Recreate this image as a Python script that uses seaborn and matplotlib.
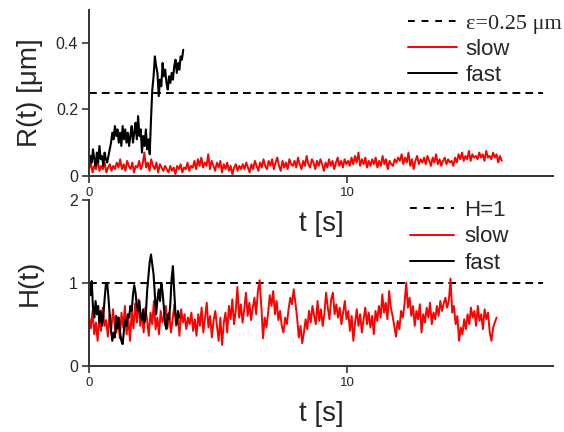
import numpy as np
import pandas as pd
import matplotlib
matplotlib.use("Agg")
import matplotlib.pyplot as plt
from matplotlib.lines import Line2D
import seaborn as sns

# R(t) slow trajectory, 0..16 s
slow_R = [
    0.02, 0.04, 0.01, 0.03, 0.02, 0.045, 0.015, 0.03, 0.02, 0.04, 0.01, 0.025, 0.035, 0.015, 0.03,
    0.02, 0.04, 0.025, 0.05, 0.02, 0.035, 0.015, 0.045, 0.03, 0.02, 0.04, 0.01, 0.03, 0.025, 0.045,
    0.02, 0.035, 0.07, 0.025, 0.04, 0.015, 0.05, 0.03, 0.02, 0.04, 0.01, 0.035, 0.025, 0.015, 0.03,
    0.02, 0.01, 0.03, 0.015, 0.025, 0.005, 0.03, 0.02, 0.035, 0.01, 0.025, 0.02, 0.04, 0.015, 0.03,
    0.025, 0.045, 0.02, 0.05, 0.03, 0.055, 0.025, 0.04, 0.03, 0.065, 0.02, 0.045, 0.03, 0.015, 0.04,
    0.025, 0.045, 0.01, 0.035, 0.02, 0.04, 0.015, 0.03, 0.005, 0.025, 0.035, 0.015, 0.03, 0.02, 0.035,
    0.02, 0.04, 0.025, 0.01, 0.035, 0.02, 0.045, 0.03, 0.015, 0.04, 0.025, 0.05, 0.03, 0.02, 0.045,
    0.03, 0.05, 0.02, 0.04, 0.055, 0.03, 0.015, 0.045, 0.025, 0.04, 0.02, 0.05, 0.035, 0.03, 0.045,
    0.025, 0.055, 0.035, 0.02, 0.045, 0.03, 0.06, 0.035, 0.025, 0.05, 0.04, 0.02, 0.045, 0.03, 0.05,
    0.035, 0.015, 0.04, 0.025, 0.05, 0.03, 0.045, 0.02, 0.04, 0.055, 0.03, 0.045, 0.025, 0.05, 0.035,
    0.045, 0.03, 0.055, 0.035, 0.06, 0.04, 0.07, 0.03, 0.05, 0.035, 0.055, 0.025, 0.045, 0.03, 0.05,
    0.035, 0.055, 0.025, 0.045, 0.03, 0.06, 0.035, 0.05, 0.02, 0.045, 0.035, 0.03, 0.05, 0.04, 0.055,
    0.045, 0.065, 0.035, 0.055, 0.04, 0.07, 0.03, 0.05, 0.02, 0.045, 0.06, 0.035, 0.05, 0.04, 0.055,
    0.035, 0.06, 0.045, 0.03, 0.055, 0.04, 0.065, 0.035, 0.05, 0.03, 0.045, 0.055, 0.035, 0.05, 0.04,
    0.045, 0.03, 0.055, 0.04, 0.065, 0.05, 0.07, 0.045, 0.06, 0.05, 0.075, 0.045, 0.065, 0.055, 0.06,
    0.05, 0.07, 0.055, 0.065, 0.045, 0.075, 0.055, 0.06, 0.05, 0.07, 0.055, 0.065, 0.04, 0.06, 0.045,
]
slow_R_end = 16.0

# R(t) fast trajectory, 0..3.65 s
fast_R = [
    0.03, 0.06, 0.04, 0.08, 0.05, 0.03, 0.07, 0.04, 0.09, 0.05, 0.06, 0.03, 0.07, 0.05, 0.04, 0.06,
    0.08, 0.10, 0.13, 0.11, 0.15, 0.12, 0.14, 0.10,
    0.13, 0.09, 0.15, 0.11, 0.14, 0.10, 0.13, 0.09, 0.12, 0.15, 0.10, 0.13, 0.16, 0.11, 0.18, 0.12,
    0.14, 0.07, 0.12, 0.09, 0.14, 0.08, 0.11, 0.065,
    0.17, 0.26, 0.30, 0.36,
    0.33, 0.31, 0.24, 0.29, 0.27, 0.34, 0.30, 0.32, 0.28, 0.26, 0.30, 0.28, 0.31, 0.29, 0.33, 0.35,
    0.31, 0.34, 0.32, 0.36, 0.35, 0.38,
]
fast_R_end = 3.65

# H(t) slow trajectory, 0..15.8 s
slow_H = [
    0.58, 0.45, 0.66, 0.38, 0.52, 0.30, 0.60, 0.42, 0.70, 0.48, 0.55, 0.35, 0.62, 0.44, 0.68,
    0.50, 0.40, 0.58, 0.33, 0.64, 0.46, 0.72, 0.38, 0.56, 0.30, 0.66, 0.45, 0.75, 0.52, 0.80,
    0.48, 0.62, 0.40, 0.70, 0.55, 0.36, 0.64, 0.50, 0.78, 0.44, 0.58, 0.38, 0.66, 0.52, 0.60,
    0.72, 0.46, 0.64, 0.40, 0.56, 0.74, 0.48, 0.60, 0.36, 0.68, 0.52, 0.62, 0.44, 0.58, 0.50,
    0.64, 0.42, 0.56, 0.36, 0.62, 0.48, 0.70, 0.40, 0.58, 0.76, 0.46, 0.60, 0.34, 0.54, 0.66,
    0.48, 0.30, 0.58, 0.25, 0.52, 0.64, 0.40, 0.72, 0.56, 0.80, 0.50, 0.66, 0.95, 0.58, 0.74,
    0.52, 0.68, 0.88, 0.60, 0.76, 0.55, 0.70, 0.82, 0.62, 0.90, 1.03, 0.72, 0.33, 0.58, 0.46,
    0.64, 0.85, 0.72, 0.90, 0.62, 0.78, 0.55, 0.66, 0.48, 0.40, 0.58, 0.50, 0.68, 0.82, 0.74,
    0.92, 0.76, 0.58, 0.34, 0.48, 0.27, 0.40, 0.56, 0.44, 0.66, 0.52, 0.72, 0.60, 0.50, 0.78,
    0.54, 0.68, 0.48, 0.62, 0.88, 0.70, 0.56, 0.80, 0.88, 0.62, 0.74, 0.58, 0.70, 0.50, 0.64,
    0.78, 0.56, 0.66, 0.42, 0.60, 0.30, 0.52, 0.68, 0.48, 0.62, 0.40, 0.56, 0.70, 0.50, 0.64,
    0.46, 0.60, 0.38, 0.66, 0.54, 0.72, 0.58, 0.86, 0.64, 0.76, 0.56, 0.90, 0.70, 0.60, 0.48,
    0.35, 0.54, 0.44, 0.66, 0.58, 0.74, 1.00, 0.70, 0.82, 0.60, 0.72, 0.48, 0.66, 0.56, 0.74,
    0.40, 0.62, 0.52, 0.70, 0.58, 0.76, 0.50, 0.64, 0.56, 0.72, 0.60, 0.78, 0.66, 0.75, 0.82,
    0.70, 0.78, 1.05, 0.64, 0.72, 0.50, 0.60, 0.30, 0.46, 0.38, 0.56, 0.44, 0.62, 0.50, 0.70,
    0.58, 0.66, 0.48, 0.72, 0.54, 0.62, 0.44, 0.68, 0.56, 0.64, 0.40, 0.30, 0.46, 0.52, 0.58,
]
slow_H_end = 15.8

# H(t) fast trajectory, 0..3.5 s
fast_H = [
    1.00, 0.85, 1.02, 0.70, 0.58, 0.78, 0.62, 0.72, 0.52, 0.66, 0.48, 0.60, 0.80, 0.98, 1.00,
    0.82, 0.60, 0.42, 0.30, 0.40, 0.34, 0.60, 0.45, 0.58, 0.40, 0.30, 0.26, 0.42, 0.55, 0.48,
    0.62, 0.58, 0.72, 0.66, 0.85, 0.97, 0.88, 0.72, 0.66, 0.78, 0.60, 0.55, 0.68, 0.52, 0.62,
    0.90, 1.08, 1.25, 1.34, 1.22, 1.10, 0.85, 0.62, 0.80, 0.92, 0.78, 1.00, 0.88, 0.70, 0.50,
    0.44, 0.62, 0.56, 0.75, 1.05, 1.20, 0.90, 0.62, 0.50, 0.66, 0.58,
]
fast_H_end = 3.5

eps = 0.25
H_thr = 1.0
thr_t = [0, 17.6]

sns.set_style("ticks")
plt.rcParams["font.family"] = ["Liberation Sans", "DejaVu Sans"]

fig = plt.figure(figsize=(5.64, 4.32), dpi=100)
ax1 = fig.add_axes([0.158, 0.593, 0.823, 0.384])
ax2 = fig.add_axes([0.158, 0.1535, 0.823, 0.384])
# keep the upper x label visible through the lower panel
ax2.patch.set_alpha(0)

spine_col = "#333333"


def draw_panel(ax, slow, slow_end, fast, fast_end, thr, ylim, yticks, ytlabels, ylabel):
    ts = np.linspace(0, slow_end, len(slow))
    tf = np.linspace(0, fast_end, len(fast))
    ax.plot(thr_t, [thr, thr], color="black", lw=1.4, dashes=(4, 2.6))
    sns.lineplot(x=ts, y=slow, ax=ax, color="red", lw=1.4, estimator=None)
    sns.lineplot(x=tf, y=fast, ax=ax, color="black", lw=1.5, estimator=None)
    ax.set_xlim(0, 18)
    ax.set_ylim(*ylim)
    ax.set_xticks([0, 10])
    ax.set_xticklabels(["0", "10"], fontsize=9.5)
    ax.set_yticks(yticks)
    ax.set_yticklabels(ytlabels, fontsize=11.5)
    ax.tick_params(direction="out", length=5, width=1.2, color=spine_col, pad=3)
    for s in ["top", "right"]:
        ax.spines[s].set_visible(False)
    for s in ["left", "bottom"]:
        ax.spines[s].set_color(spine_col)
        ax.spines[s].set_linewidth(1.4)
    ax.set_xlabel("t [s]", fontsize=20, labelpad=9)
    ax.set_ylabel(ylabel, fontsize=20)
    ax.yaxis.set_label_coords(-0.10, 0.5)
    handles = [
        Line2D([], [], color="black", lw=1.4, dashes=(3.5, 3.5)),
        Line2D([], [], color="red", lw=1.4),
        Line2D([], [], color="black", lw=1.4),
    ]
    return handles


h1 = draw_panel(ax1, slow_R, slow_R_end, fast_R, fast_R_end, eps,
                (0, 0.5), [0, 0.2, 0.4], ["0", "0.2", "0.4"], "R(t) [μm]")
leg1 = fig.legend(h1, ["ε=0.25 μm", "slow", "fast"], loc="upper left",
                  bbox_to_anchor=(408 / 564, 1 - 13 / 432), frameon=False, fontsize=16,
                  handlelength=2.2, handletextpad=0.4, labelspacing=0.24,
                  borderpad=0, borderaxespad=0)
leg1.get_texts()[0].set_family(["Liberation Serif", "DejaVu Serif"])

h2 = draw_panel(ax2, slow_H, slow_H_end, fast_H, fast_H_end, H_thr,
                (0, 2), [0, 1, 2], ["0", "1", "2"], "H(t)")
leg2 = fig.legend(h2, ["H=1", "slow", "fast"], loc="upper left",
                  bbox_to_anchor=(410 / 564, 1 - 200 / 432), frameon=False, fontsize=16,
                  handlelength=2.0, handletextpad=0.45, labelspacing=0.24,
                  borderpad=0, borderaxespad=0)

fig.savefig("out.png", dpi=100)
